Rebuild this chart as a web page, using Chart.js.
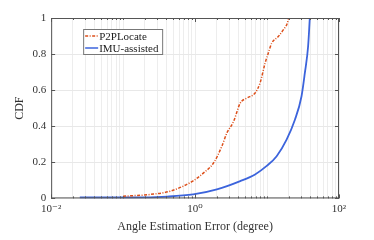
<!DOCTYPE html>
<html>
<head>
<meta charset="utf-8">
<script src="https://cdn.jsdelivr.net/npm/chart.js@4"></script>
<style>
  html, body { margin: 0; padding: 0; background: #fff; }
  #wrap { width: 374px; height: 240px; }
</style>
</head>
<body>
<div id="wrap"><canvas id="cdfChart"></canvas></div>
<script>
// === data ===
const p2pError = [0.1, 0.24, 0.45, 0.93, 1.3, 1.81, 2.36, 2.77, 3.43, 4.24, 5.24, 6.82, 8.0, 9.4, 10.4, 11.6, 14.3, 16.8, 19.1, 20.0];
const p2pCdf   = [0.012, 0.022, 0.04, 0.096, 0.14, 0.197, 0.29, 0.363, 0.427, 0.528, 0.556, 0.584, 0.64, 0.75, 0.805, 0.86, 0.897, 0.934, 0.97, 1.0];

const imuError = [0.025, 0.14, 0.41, 0.94, 2.01, 4.24, 6.82, 9.9, 13.6, 18.7, 24.4, 30.1, 33.5, 37.2, 39.3];
const imuCdf   = [0.005, 0.005, 0.01, 0.022, 0.05, 0.096, 0.133, 0.18, 0.234, 0.326, 0.436, 0.565, 0.694, 0.842, 1.0];

const xMajorTicks = [0.01, 1, 100];
const xTickLabels = ['10\u207B\u00B2', '10\u2070', '10\u00B2'];
const yTicks = [0, 0.2, 0.4, 0.6, 0.8, 1];

const toPoints = (xs, ys) => xs.map((x, i) => ({ x: x, y: ys[i] }));

// minor log ticks 1..9 x 10^n
const xAllTicks = [];
for (let e = -2; e < 2; e++) {
  for (let m = 1; m < 10; m++) xAllTicks.push(+(m * Math.pow(10, e)).toPrecision(3));
}
xAllTicks.push(100);

const serif = '"Liberation Serif", "DejaVu Serif", serif';

// box, inward ticks and legend inside the plot
const matlabBox = {
  id: 'matlabBox',
  afterDraw(chart) {
    const c = chart.ctx, a = chart.chartArea;
    const xs = chart.scales.x, ys = chart.scales.y;
    c.save();
    c.strokeStyle = '#555';
    c.lineWidth = 1;
    c.strokeRect(a.left + 0.5, a.top + 0.5, a.right - a.left - 1, a.bottom - a.top - 1);
    c.beginPath();
    xAllTicks.forEach(v => {
      const px = Math.round(xs.getPixelForValue(v)) + 0.5;
      const len = xMajorTicks.includes(v) ? 4 : 2;
      c.moveTo(px, a.bottom); c.lineTo(px, a.bottom - len);
      c.moveTo(px, a.top); c.lineTo(px, a.top + len);
    });
    yTicks.forEach(v => {
      const py = Math.round(ys.getPixelForValue(v)) + 0.5;
      c.moveTo(a.left, py); c.lineTo(a.left + 4, py);
      c.moveTo(a.right, py); c.lineTo(a.right - 4, py);
    });
    c.stroke();

    // legend
    const lx = a.left + 32, ly = a.top + 11, w = 79, h = 25;
    c.fillStyle = '#fff';
    c.fillRect(lx, ly, w, h);
    c.strokeStyle = '#777';
    c.strokeRect(lx + 0.5, ly + 0.5, w, h);
    c.font = '11px ' + serif;
    c.textBaseline = 'middle';
    chart.data.datasets.forEach((ds, i) => {
      const yy = ly + 7 + i * 12;
      c.strokeStyle = ds.borderColor;
      c.lineWidth = 1.5;
      c.setLineDash(ds.borderDash || []);
      c.beginPath(); c.moveTo(lx + 2, yy); c.lineTo(lx + 15, yy); c.stroke();
      c.setLineDash([]);
      c.fillStyle = '#222';
      c.fillText(ds.label, lx + 16, yy + 1);
    });
    c.restore();
  }
};

new Chart(document.getElementById('cdfChart'), {
  type: 'scatter',
  data: {
    datasets: [
      {
        label: 'P2PLocate',
        data: toPoints(p2pError, p2pCdf),
        showLine: true,
        borderColor: '#dd4f1a',
        borderWidth: 1.5,
        borderDash: [3, 1.5, 1, 1.5],
        pointRadius: 0,
        cubicInterpolationMode: 'monotone'
      },
      {
        label: 'IMU-assisted',
        data: toPoints(imuError, imuCdf),
        showLine: true,
        borderColor: '#3c64dc',
        borderWidth: 1.8,
        pointRadius: 0,
        cubicInterpolationMode: 'monotone'
      }
    ]
  },
  options: {
    responsive: true,
    maintainAspectRatio: false,
    animation: false,
    layout: { padding: { left: 9, right: 35, top: 18, bottom: 2 } },
    plugins: { legend: { display: false }, tooltip: { enabled: false } },
    scales: {
      x: {
        type: 'logarithmic',
        min: 0.01,
        max: 100,
        afterBuildTicks: s => { s.ticks = xAllTicks.map(v => ({ value: v })); },
        ticks: {
          autoSkip: false,
          maxRotation: 0,
          color: '#333',
          font: { family: serif, size: 11 },
          padding: 4,
          callback: v => {
            const i = xMajorTicks.findIndex(t => Math.abs(t - v) < 1e-9);
            return i >= 0 ? xTickLabels[i] : '';
          }
        },
        grid: { color: '#e9e9e9', lineWidth: 0.8, drawTicks: false },
        border: { display: false },
        title: { display: true, text: 'Angle Estimation Error (degree)', color: '#333', font: { family: serif, size: 12 }, padding: { top: 0 } }
      },
      y: {
        min: 0,
        max: 1,
        afterBuildTicks: s => { s.ticks = yTicks.map(v => ({ value: v })); },
        ticks: {
          color: '#333',
          font: { family: serif, size: 11 },
          padding: 5,
          callback: v => (v === 0 || v === 1) ? String(v) : v.toFixed(1)
        },
        grid: { color: '#e8e8e8', lineWidth: 1, drawTicks: false },
        border: { display: false },
        title: { display: true, text: 'CDF', color: '#333', font: { family: serif, size: 12 }, padding: { bottom: 0 } }
      }
    }
  },
  plugins: [matlabBox]
});
</script>
</body>
</html>
